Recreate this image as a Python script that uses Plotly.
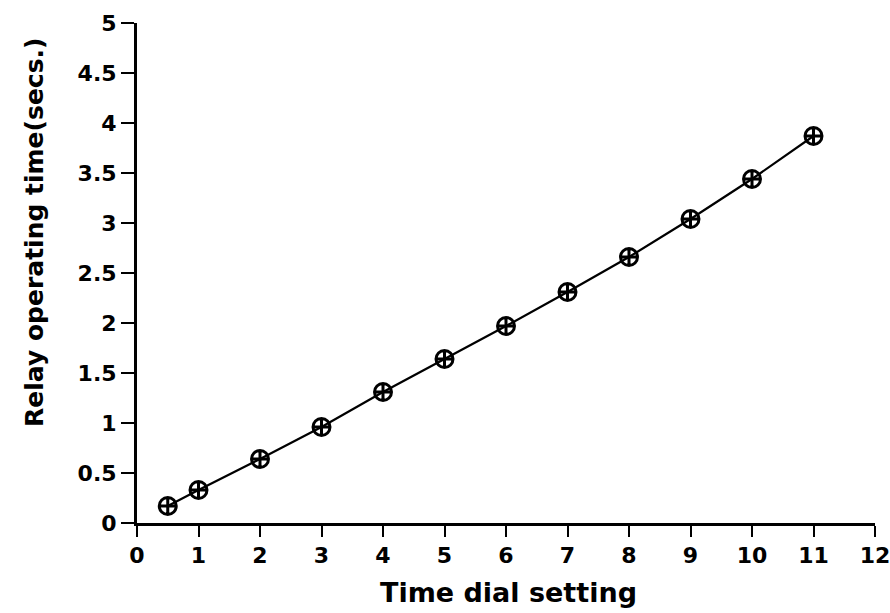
import plotly.graph_objects as go

dial_setting = [0.5, 1, 2, 3, 4, 5, 6, 7, 8, 9, 10, 11]
operating_time = [0.17, 0.33, 0.64, 0.96, 1.31, 1.64, 1.97, 2.31, 2.66, 3.04, 3.44, 3.87]
x_ticks = list(range(0, 13))
y_ticks = [0, 0.5, 1, 1.5, 2, 2.5, 3, 3.5, 4, 4.5, 5]
y_tick_labels = ["0", "0.5", "1", "1.5", "2", "2.5", "3", "3.5", "4", "4.5", "5"]

fig = go.Figure()
fig.add_trace(go.Scatter(
    x=dial_setting, y=operating_time, mode="lines+markers",
    line=dict(color="black", width=2.2),
    marker=dict(symbol="circle-cross-open", size=17, color="black",
                line=dict(color="black", width=3)),
    showlegend=False,
))

tickfont = dict(family="DejaVu Sans", size=22, color="black", weight="bold")
fig.update_layout(
    width=890, height=613,
    margin=dict(l=137, r=15, t=23, b=90),
    paper_bgcolor="white", plot_bgcolor="white",
    xaxis=dict(range=[0, 12], tickvals=x_ticks, ticks="outside", ticklen=11,
               tickwidth=2, tickcolor="black", showline=True, linecolor="black",
               linewidth=3, showgrid=False, zeroline=False, tickfont=tickfont,
               automargin=False, ticklabeloverflow="allow"),
    yaxis=dict(range=[0, 5], tickvals=y_ticks, ticktext=y_tick_labels,
               ticks="outside", ticklen=13, tickwidth=2, tickcolor="black",
               showline=True, linecolor="black", linewidth=3, showgrid=False,
               zeroline=False, tickfont=tickfont,
               automargin=False, ticklabeloverflow="allow"),
    annotations=[
        dict(text="Time dial setting", xref="paper", yref="paper",
             x=0.503, y=-0.138, xanchor="center", yanchor="middle",
             showarrow=False,
             font=dict(family="DejaVu Sans", size=27, color="black", weight="bold")),
        dict(text="Relay operating time(secs.)", xref="paper", yref="paper",
             x=-0.1396, y=0.582, xanchor="center", yanchor="middle", textangle=-90,
             showarrow=False,
             font=dict(family="DejaVu Sans", size=25, color="black", weight="bold")),
    ],
)
fig.write_html("out.html")
